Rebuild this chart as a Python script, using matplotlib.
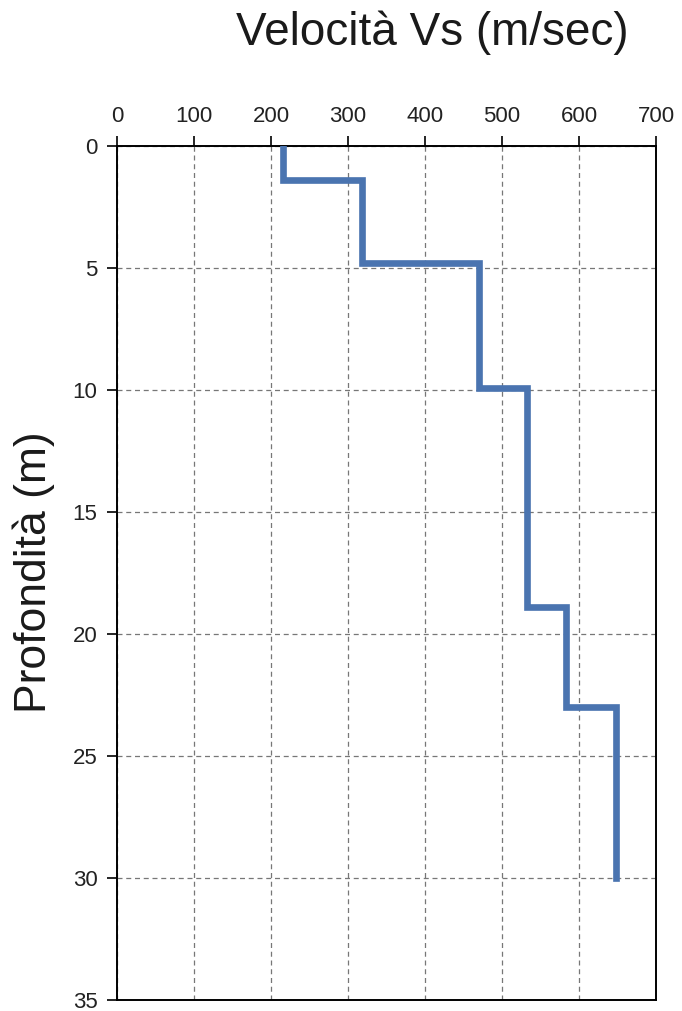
import matplotlib
matplotlib.use("Agg")
import matplotlib.pyplot as plt

# Shear-wave velocity profile (layer velocities and depth boundaries)
vs_layers = [215, 318, 470, 533, 583, 648]          # m/s
depth_bounds = [0, 1.4, 4.8, 9.9, 18.9, 23.0, 30.0]  # m
x_ticks = [0, 100, 200, 300, 400, 500, 600, 700]
y_ticks = [0, 5, 10, 15, 20, 25, 30, 35]

# Build step polyline from layers
xs, ys = [], []
for v, top, bot in zip(vs_layers, depth_bounds[:-1], depth_bounds[1:]):
    xs += [v, v]
    ys += [top, bot]

fig = plt.figure(figsize=(6.82, 10.11), dpi=100)
ax = fig.add_axes([117 / 682, 11 / 1011, (656 - 117) / 682, (1000 - 146) / 1011])

ax.plot(xs, ys, color="#4a74b0", lw=4.8, solid_joinstyle="miter", zorder=3)

ax.set_xlim(0, 700)
ax.set_ylim(35, 0)
ax.set_xticks(x_ticks)
ax.set_yticks(y_ticks)
ax.xaxis.tick_top()
ax.tick_params(axis="both", direction="out", length=7, width=1.2, color="black",
               labelsize=16, labelcolor="#222222", pad=7)
for lab in ax.get_xticklabels() + ax.get_yticklabels():
    lab.set_family("Liberation Sans")

ax.grid(True, ls=(0, (4, 3)), color="#777777", lw=0.9)
ax.set_axisbelow(True)
for sp in ax.spines.values():
    sp.set_linewidth(1.4)
    sp.set_color("black")

fig.text(432 / 682, 1 - 33 / 1011, "Velocità Vs (m/sec)", ha="center", va="center",
         fontsize=33, family="Liberation Sans", color="#1a1a1a")
fig.text(34 / 682, 1 - 572 / 1011, "Profondità (m)", ha="center", va="center",
         rotation=90, fontsize=32, family="Liberation Sans", color="#1a1a1a")

fig.savefig("out.png", dpi=100, facecolor="white")
